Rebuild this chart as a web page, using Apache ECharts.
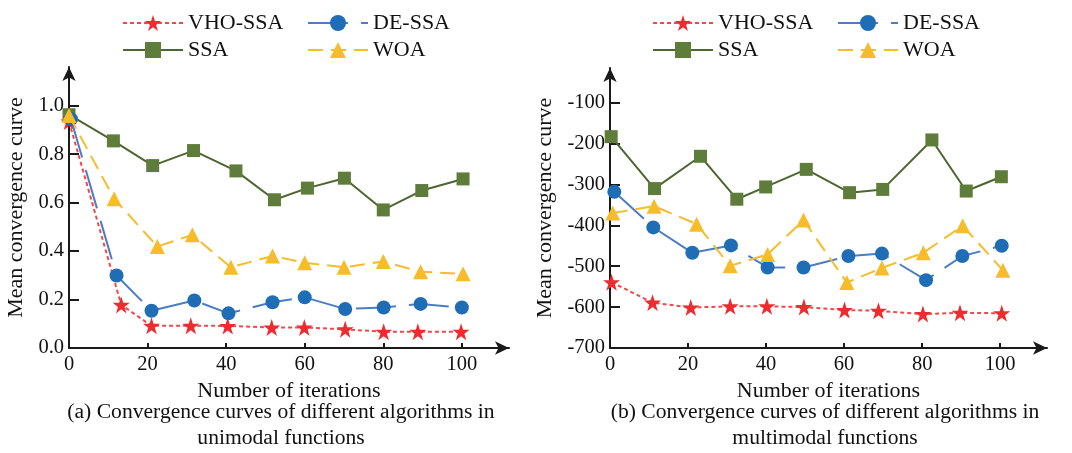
<!DOCTYPE html>
<html>
<head>
<meta charset="utf-8">
<script src="https://cdn.jsdelivr.net/npm/echarts@6/dist/echarts.min.js"></script>
<style>html,body{margin:0;padding:0;background:#fff;}#c{width:1072px;height:453px;}</style>
</head>
<body>
<div id="c"></div>
<script>
// ---- Data: (a) unimodal functions ----
const xTicks = [0, 20, 40, 60, 80, 100];
const yTicksA = [0, 0.2, 0.4, 0.6, 0.8, 1.0];
const yTicksB = [-700, -600, -500, -400, -300, -200, -100];
const legendCol1 = ['VHO-SSA', 'SSA'];
const legendCol2 = ['DE-SSA', 'WOA'];

const aVHO_x = [0, 13.3, 21, 31, 40.4, 51.6, 59.9, 70.3, 80.1, 88.8, 99.8];
const aVHO_y = [0.935, 0.178, 0.092, 0.092, 0.091, 0.085, 0.085, 0.077, 0.067, 0.067, 0.067];
const aDE_x = [0.5, 12.1, 21, 31.9, 40.6, 51.8, 60, 70.3, 80.1, 89.5, 100];
const aDE_y = [0.945, 0.299, 0.154, 0.196, 0.143, 0.189, 0.209, 0.161, 0.167, 0.182, 0.167];
const aSSA_x = [0, 11.3, 21.3, 31.7, 42.5, 52.3, 60.7, 70.1, 80, 89.8, 100.3];
const aSSA_y = [0.963, 0.855, 0.753, 0.815, 0.731, 0.612, 0.66, 0.701, 0.570, 0.650, 0.698];
const aWOA_x = [0, 11.5, 22.5, 31.4, 41.2, 51.8, 60, 70, 80, 89.5, 100.3];
const aWOA_y = [0.96, 0.616, 0.419, 0.467, 0.333, 0.38, 0.352, 0.333, 0.357, 0.315, 0.306];

// ---- Data: (b) multimodal functions ----
const bVHO_x = [0.4, 10.9, 20.7, 30.8, 40.2, 49.7, 60.1, 68.8, 80.2, 89.7, 100.4];
const bVHO_y = [-539, -589, -601, -598, -598, -600, -607, -609, -617, -614, -615];
const bDE_x = [1.1, 11.1, 21.1, 31, 40.4, 49.6, 61.1, 69.7, 81, 90.3, 100.4];
const bDE_y = [-318, -405, -467, -449, -503, -503, -475, -469, -534, -475, -450];
const bSSA_x = [0.3, 11.4, 23.2, 32.5, 39.9, 50.3, 61.4, 69.9, 82.5, 91.3, 100.3];
const bSSA_y = [-183, -310, -231, -336, -306, -263, -320, -312, -191, -316, -281];
const bWOA_x = [0.7, 11.3, 22.2, 30.8, 40.4, 49.6, 60.7, 69.7, 80.3, 90.4, 100.7];
const bWOA_y = [-370, -353, -397, -499, -471, -387, -540, -504, -467, -401, -510];

const captionA = ['(a) Convergence curves of different algorithms in', 'unimodal functions'];
const captionB = ['(b) Convergence curves of different algorithms in', 'multimodal functions'];
const xName = 'Number of iterations';
const yName = 'Mean convergence curve';

// ---- Styling ----
const FONT = 'Liberation Serif, Times New Roman, serif';
const STAR = 'path://M50,0 L61.8,35.5 L99,35.5 L69,57.5 L80.4,93 L50,71 L19.6,93 L31,57.5 L1,35.5 L38.2,35.5 Z';
const styles = {
  'VHO-SSA': {symbol: STAR, size: 17, color: '#EE2B2E', line: '#F0484B', type: [4, 3]},
  'DE-SSA': {symbol: 'circle', size: 14, color: '#1F6DB5', line: '#4C7CC6', type: [40, 13]},
  'SSA': {symbol: 'rect', size: 13, color: '#5E7D3B', line: '#4D6530', type: 'solid'},
  'WOA': {symbol: 'triangle', size: 15, color: '#F6BC2A', line: '#F6BC2A', type: [15, 8]}
};
const zOrder = {'SSA': 1, 'VHO-SSA': 2, 'DE-SSA': 3, 'WOA': 4};

function zip(xs, ys) { return xs.map((x, i) => [x, ys[i]]); }
function mkSeries(name, xs, ys, idx) {
  const s = styles[name];
  return {
    name: name, type: 'line', xAxisIndex: idx, yAxisIndex: idx,
    data: zip(xs, ys), symbol: s.symbol, symbolSize: s.size, z: zOrder[name],
    itemStyle: {color: s.color}, lineStyle: {color: s.line, width: 2, type: s.type},
    showSymbol: true, animation: false, clip: false
  };
}

function mkX(idx) {
  return {
    type: 'value', gridIndex: idx, min: 0, max: 112,
    name: xName, nameLocation: 'middle', nameGap: 26,
    nameTextStyle: {fontFamily: FONT, fontSize: 22, color: '#111'},
    axisLine: {show: true, lineStyle: {color: '#1a1a1a', width: 2}, symbol: ['none', 'arrow'], symbolSize: [10, 14]},
    axisTick: {show: true, inside: true, length: 5, lineStyle: {color: '#1a1a1a', width: 2}, customValues: xTicks},
    axisLabel: {fontFamily: FONT, fontSize: 20.5, color: '#111', margin: 6, customValues: xTicks},
    splitLine: {show: false}
  };
}
function mkY(idx, min, max, ticks, gap) {
  return {
    type: 'value', gridIndex: idx, min: min, max: max,
    name: yName, nameLocation: 'middle', nameGap: gap,
    nameTextStyle: {fontFamily: FONT, fontSize: 22, color: '#111'},
    axisLine: {show: true, onZero: false, lineStyle: {color: '#1a1a1a', width: 2}, symbol: ['none', 'arrow'], symbolSize: [10, 14]},
    axisTick: {show: true, inside: true, length: 10, lineStyle: {color: '#1a1a1a', width: 2}, customValues: ticks},
    axisLabel: {fontFamily: FONT, fontSize: 20.5, color: '#111', margin: 5, customValues: ticks,
      formatter: v => (idx === 0 ? Number(v).toFixed(1) : String(v))},
    splitLine: {show: false}
  };
}
function mkLegend(left, names) {
  return {
    left: left, top: 7, orient: 'vertical',
    data: names, itemWidth: 60, itemHeight: 20, itemGap: 5,
    textStyle: {fontFamily: FONT, fontSize: 22, color: '#111'},
    selectedMode: false
  };
}
function caption(lines, cx) {
  return lines.map((t, i) => ({
    type: 'text', x: cx, y: 412 + i * 26,
    style: {text: t, fontFamily: FONT, fontSize: 21.6, fill: '#111', textAlign: 'center', textVerticalAlign: 'middle'}
  }));
}

const chart = echarts.init(document.getElementById('c'), null, {renderer: 'canvas'});
const seriesA = [
  mkSeries('SSA', aSSA_x, aSSA_y, 0),
  mkSeries('VHO-SSA', aVHO_x, aVHO_y, 0),
  mkSeries('DE-SSA', aDE_x, aDE_y, 0),
  mkSeries('WOA', aWOA_x, aWOA_y, 0)
];
const seriesB = [
  mkSeries('SSA', bSSA_x, bSSA_y, 1),
  mkSeries('VHO-SSA', bVHO_x, bVHO_y, 1),
  mkSeries('DE-SSA', bDE_x, bDE_y, 1),
  mkSeries('WOA', bWOA_x, bWOA_y, 1)
];
chart.setOption({
  backgroundColor: '#fff',
  animation: false,
  legend: [
    mkLegend(117, legendCol1), mkLegend(302, legendCol2),
    mkLegend(647, legendCol1), mkLegend(832, legendCol2)
  ],
  grid: [
    {left: 69, top: 67, width: 440, height: 281},
    {left: 610, top: 68, width: 437, height: 280}
  ],
  xAxis: [mkX(0), mkX(1)],
  yAxis: [mkY(0, 0, 1.16, yTicksA, 42), mkY(1, -700, -15, yTicksB, 54)],
  series: seriesA.concat(seriesB),
  graphic: caption(captionA, 281).concat(caption(captionB, 825))
});
</script>
</body>
</html>
